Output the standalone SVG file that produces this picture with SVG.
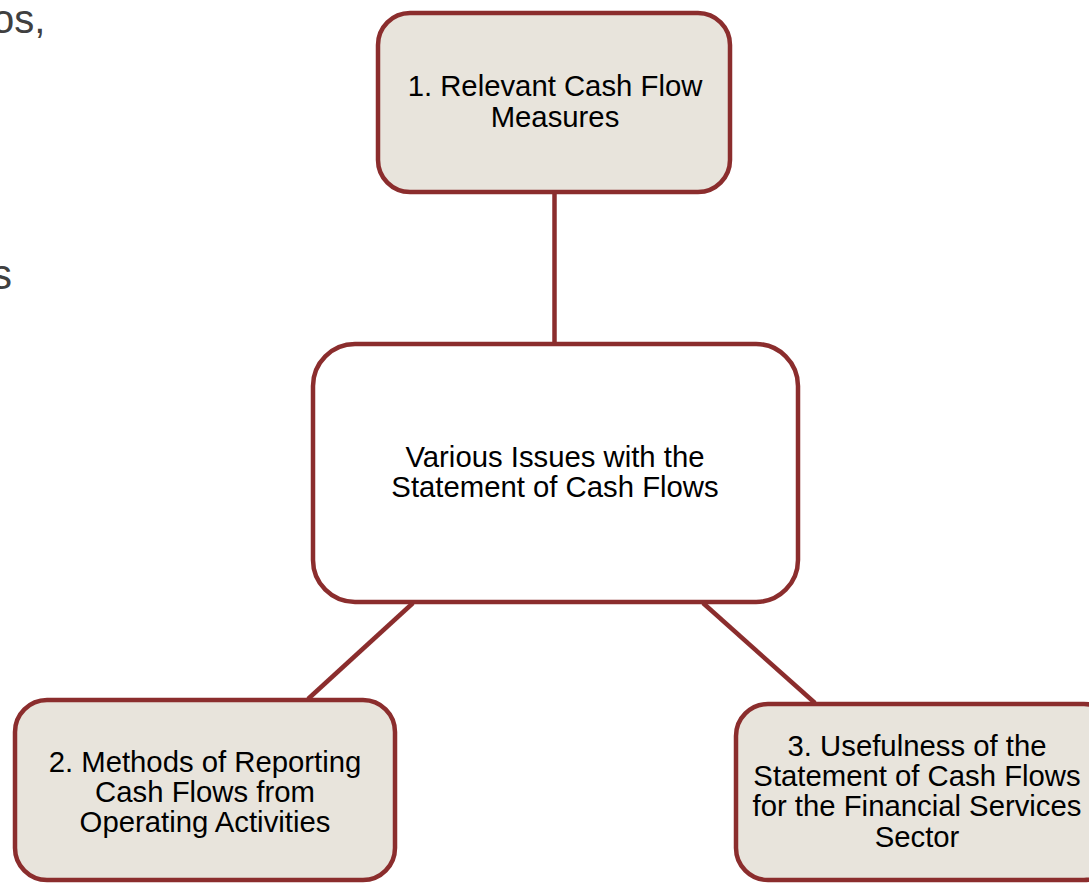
<svg xmlns="http://www.w3.org/2000/svg" width="1089" height="883" viewBox="0 0 1089 883">
<style>
.box{stroke:#8B2D2D;stroke-width:4.5;}
.sub{fill:#E8E4DC;}
.main{fill:#FFFFFF;}
.lbl{font-family:"Liberation Sans",Arial,sans-serif;font-size:29.3px;fill:#000;text-anchor:middle;}
.frag{font-family:"Liberation Sans",Arial,sans-serif;fill:#404040;}
.conn{stroke:#8B2D2D;stroke-width:4.5;fill:none;}
</style>
<rect width="1089" height="883" fill="#FFFFFF"/>
<text class="frag" x="-8" y="33" font-size="40">os,</text>
<text class="frag" x="-9" y="289" font-size="42">s</text>
<g id="connectors">
<line class="conn" x1="554.5" y1="193" x2="554.5" y2="344"/>
<line class="conn" x1="413" y1="603" x2="308" y2="699"/>
<line class="conn" x1="703" y1="603" x2="815" y2="703"/>
</g>
<g id="node-1">
<rect class="box sub" x="378" y="13" width="352" height="179" rx="32"/>
<text class="lbl" x="555" y="96">1. Relevant Cash Flow</text>
<text class="lbl" x="555" y="127">Measures</text>
</g>
<g id="node-center">
<rect class="box main" x="313" y="344" width="485" height="258" rx="42"/>
<text class="lbl" x="555" y="467">Various Issues with the</text>
<text class="lbl" x="555" y="497">Statement of Cash Flows</text>
</g>
<g id="node-2">
<rect class="box sub" x="15" y="700" width="380" height="180" rx="32"/>
<text class="lbl" x="205" y="772">2. Methods of Reporting</text>
<text class="lbl" x="205" y="802">Cash Flows from</text>
<text class="lbl" x="205" y="832">Operating Activities</text>
</g>
<g id="node-3">
<rect class="box sub" x="736" y="704" width="380" height="176" rx="32"/>
<text class="lbl" x="917" y="756">3. Usefulness of the</text>
<text class="lbl" x="917" y="786">Statement of Cash Flows</text>
<text class="lbl" x="917" y="816">for the Financial Services</text>
<text class="lbl" x="917" y="847">Sector</text>
</g>
</svg>
